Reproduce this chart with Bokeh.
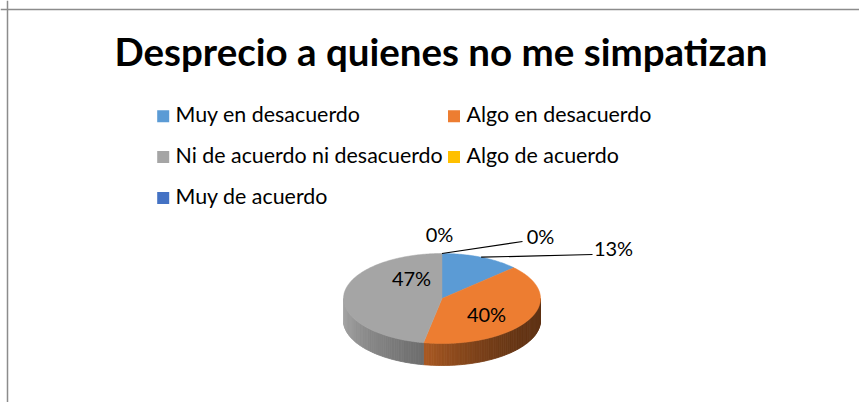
import numpy as np
from bokeh.plotting import figure
from bokeh.models import Range1d, Span
from bokeh.core.properties import value
from bokeh.embed import file_html
from bokeh.resources import INLINE

# ---------------- data ----------------
title = "Desprecio a quienes no me simpatizan"
categories = ["Muy en desacuerdo", "Algo en desacuerdo",
              "Ni de acuerdo ni desacuerdo", "Algo de acuerdo", "Muy de acuerdo"]
percent = [13, 40, 47, 0, 0]
colors = ["#5B9BD5", "#ED7D31", "#A5A5A5", "#FFC000", "#4472C4"]

# ---------------- layout (page pixel coordinates) ----------------
W, H = 859, 402


def X(ix):
    return ix


def Y(iy):
    return H - iy


FONT = "Lato"
BASE_FIX = 0.4  # em, empirical baseline correction for svg text

TITLE_PX = 38.5
LEG_PX = 21.4
LAB_PX = 20.0

cx, cy = X(441.5), Y(298)
rx, ry, depth = 98.5, 45.0, 22.0

# side shading (light factor at high angle end, dark factor, curve exponent)
side_shade = {"#ED7D31": (0.72, 0.40, 2.5), "#A5A5A5": (1.02, 0.66, 1.0),
              "#5B9BD5": (0.85, 0.5, 1.0), "#FFC000": (0.85, 0.5, 1.0),
              "#4472C4": (0.85, 0.5, 1.0)}

# label anchor (center x, baseline y) for each category in page pixels
label_pos = [(613, 255), (486, 321.7), (411, 285), (540, 243.3), (439, 241.7)]
# leader lines end points (page pixels); None = no leader
leader_end = [(592, 254), None, None, (522, 241), None]

p = figure(width=W, height=H, x_range=Range1d(0, W), y_range=Range1d(0, H),
           x_axis_type=None, y_axis_type=None, toolbar_location=None,
           output_backend="svg", min_border=0, outline_line_color=None,
           background_fill_color="white", border_fill_color="white")
p.grid.visible = False

# chart border (top & left visible)
p.add_layout(Span(location=X(7), dimension="height", line_color="#8c8c8c", line_width=1.5))
p.add_layout(Span(location=Y(9), dimension="width", line_color="#8c8c8c", line_width=1.5))

# title
p.text(x=[X(440.5)], y=[Y(66 - BASE_FIX * TITLE_PX)], text=[title], text_font=value(FONT),
       text_font_style="bold", text_font_size="%.1fpx" % TITLE_PX, text_align="center",
       text_baseline="alphabetic", text_color="#000000")

# legend
leg_sq_x = [162.7, 453.5]
leg_tx_x = [175, 466]
leg_row_y = [115.8, 156.6, 197.4]
for i, (cat, col) in enumerate(zip(categories, colors)):
    c, r = i % 2, i // 2
    p.scatter(x=[X(leg_sq_x[c])], y=[Y(leg_row_y[r])], marker="square", size=12,
              fill_color=col, line_color=None)
    p.text(x=[X(leg_tx_x[c])], y=[Y(leg_row_y[r] + 6.5 - BASE_FIX * LEG_PX)], text=[cat],
           text_font=value(FONT), text_font_size="%.1fpx" % LEG_PX, text_align="left",
           text_baseline="alphabetic", text_color="#000000")

# pie geometry
total = float(sum(percent))
bounds = np.concatenate([[0.0], np.cumsum(percent) / total * 2 * np.pi])


def ex(t):
    return cx + rx * np.sin(t)


def ey(t):
    return cy + ry * np.cos(t)


def shade(hexcol, f):
    r, g, b = (int(hexcol[i:i + 2], 16) for i in (1, 3, 5))
    return "#%02x%02x%02x" % tuple(max(0, min(255, int(round(v * f)))) for v in (r, g, b))


# sides (front half)
for i, col in enumerate(colors):
    a0, a1 = bounds[i], bounds[i + 1]
    v0, v1 = max(a0, np.pi / 2), min(a1, 3 * np.pi / 2)
    if v1 <= v0:
        continue
    light, dark, ex_p = side_shade[col]
    n = max(2, int((v1 - v0) / np.radians(1.5)))
    ts = np.linspace(v0, v1, n + 1)
    xs_l, ys_l, cs = [], [], []
    for k in range(n):
        t0, t1 = ts[k], ts[k + 1]
        tt = ((t0 + t1) / 2 - v0) / (v1 - v0)
        f = dark + (light - dark) * tt ** ex_p
        xs_l.append([ex(t0), ex(t1), ex(t1), ex(t0)])
        ys_l.append([ey(t0), ey(t1), ey(t1) - depth, ey(t0) - depth])
        cs.append(shade(col, f))
    p.patches(xs_l, ys_l, fill_color=cs, line_color=cs, line_width=0.8)

# top faces
for i, col in enumerate(colors):
    a0, a1 = bounds[i], bounds[i + 1]
    if a1 - a0 <= 0:
        continue
    ts = np.linspace(a0, a1, max(3, int((a1 - a0) / np.radians(1)) + 1))
    p.patch(x=[cx] + list(ex(ts)), y=[cy] + list(ey(ts)), fill_color=col,
            line_color=col, line_width=0.5)

# leader lines + data labels
for i, pct in enumerate(percent):
    mid = (bounds[i] + bounds[i + 1]) / 2
    if leader_end[i] is not None:
        ex_, ey_ = leader_end[i]
        p.line(x=[ex(mid), X(ex_)], y=[ey(mid), Y(ey_)], line_color="#000000", line_width=1.2)
    lx, ly = label_pos[i]
    p.text(x=[X(lx)], y=[Y(ly - BASE_FIX * LAB_PX)], text=["%d%%" % round(pct)],
           text_font=value(FONT), text_font_size="%.1fpx" % LAB_PX, text_align="center",
           text_baseline="alphabetic", text_color="#000000")

open("out.html", "w").write(file_html(p, INLINE))
